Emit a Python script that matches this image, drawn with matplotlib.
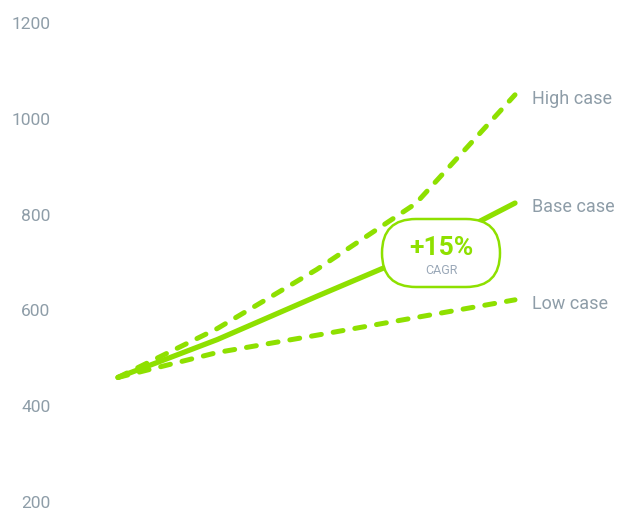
import matplotlib
matplotlib.use("Agg")
import matplotlib.pyplot as plt
from matplotlib.patches import FancyBboxPatch
from matplotlib.transforms import IdentityTransform

plt.rcParams['font.family'] = ['Roboto', 'DejaVu Sans']

# Data
periods = [0, 1, 2, 3, 4]
high_case = [458, 560, 683, 821, 1048]
base_case = [458, 537, 627, 715, 822]
low_case = [458, 510, 546, 583, 620]
series_labels = ["High case", "Base case", "Low case"]
y_ticks = [200, 400, 600, 800, 1000, 1200]
cagr_text = "+15%"
cagr_sub = "CAGR"

green = "#8EE000"
gray = "#8E9DA8"

W, H = 618, 510
fig = plt.figure(figsize=(W / 100, H / 100), dpi=100)
ax = fig.add_axes([60 / W, 8 / H, 540 / W, (502 - 23) / H])

x0 = -58 / 99.25
ax.set_xlim(x0, x0 + 540 / 99.25)
ax.set_ylim(200, 1200)

dash = dict(linestyle=(0, (2.0, 2.4)), dash_capstyle='round')
ax.plot(periods, high_case, color=green, lw=3.6, **dash, zorder=2)
ax.plot(periods, low_case, color=green, lw=3.6, **dash, zorder=2)
ax.plot(periods, base_case, color=green, lw=3.8, solid_capstyle='round', zorder=3)

for vals, lab in zip([high_case, base_case, low_case], series_labels):
    ax.annotate(lab, xy=(periods[-1], vals[-1]), xytext=(12, -2),
                textcoords='offset points', ha='left', va='center',
                fontsize=13, color=gray)

ax.set_yticks(y_ticks)
ax.set_yticklabels([str(v) for v in y_ticks])
ax.tick_params(axis='y', length=0, pad=7, labelsize=12.5, labelcolor=gray)
ax.set_xticks([])
for s in ax.spines.values():
    s.set_visible(False)

# CAGR bubble (pixel coordinates)
bx, by, bw, bh = 382, H - 288, 118, 68
bubble = FancyBboxPatch((bx, by), bw, bh,
                        boxstyle=f"round,pad=0,rounding_size={bh/2}",
                        transform=IdentityTransform(), facecolor='white',
                        edgecolor=green, lw=1.8, zorder=5)
fig.patches.append(bubble)
fig.text(441 / W, (H - 248) / H, cagr_text, ha='center', va='center',
         fontsize=19, fontweight='bold', color=green, zorder=6)
fig.text(441 / W, (H - 270) / H, cagr_sub, ha='center', va='center',
         fontsize=9, color="#9AA8B8", zorder=6)

fig.savefig("out.png", dpi=100)
